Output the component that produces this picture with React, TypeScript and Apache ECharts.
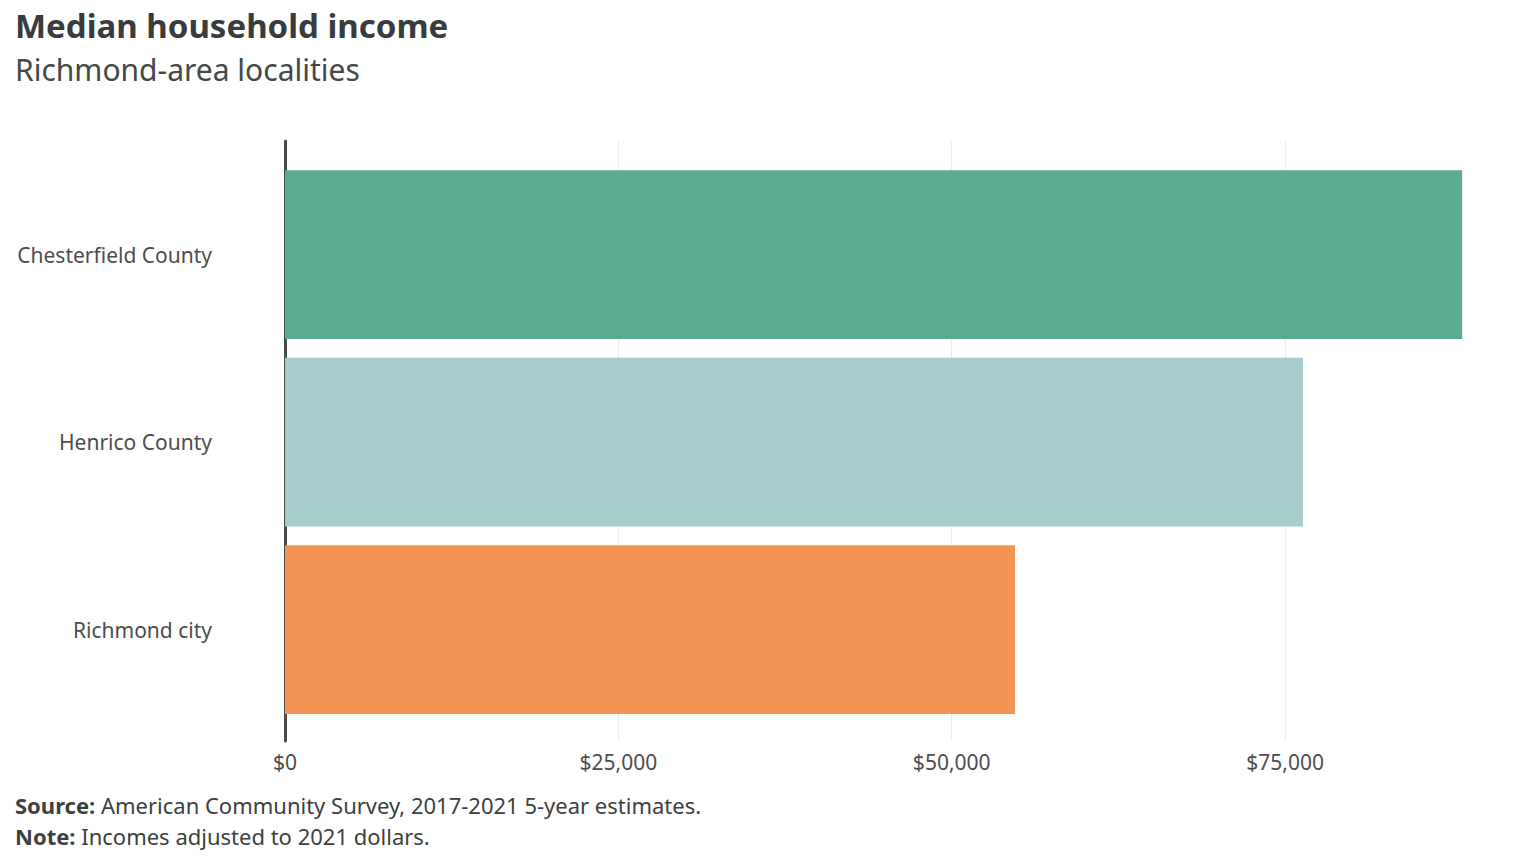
import React, { useEffect, useRef } from "react";
import * as echarts from "echarts";

const categories = ["Chesterfield County", "Henrico County", "Richmond city"];
const incomes = [88280, 76350, 54750];
const barColors = ["#5BAB8E", "#A6CCCC", "#F39354"];
const tickInterval = 25000;

const FONT = "'Noto Sans', 'Open Sans', sans-serif";

export default function App() {
  const ref = useRef<HTMLDivElement>(null);
  useEffect(() => {
    if (!ref.current) return;
    const chart = echarts.init(ref.current, undefined, { renderer: "svg" });
    const xMax = Math.max(...incomes) * 1.05;
    const left = 285;
    const right = 15;
    const fmt = (v: number) => "$" + v.toLocaleString("en-US");
    const capStyle = (top: number, text: string) => ({
      text,
      left: 15,
      top,
      padding: 0,
      textStyle: {
        fontFamily: FONT,
        fontSize: 22,
        fontWeight: "normal",
        color: "#3d4040",
        lineHeight: 24,
        rich: {
          b: { fontFamily: FONT, fontSize: 22, fontWeight: "bold", color: "#3d4040", lineHeight: 24 },
        },
      },
    });
    chart.setOption({
      animation: false,
      textStyle: { fontFamily: FONT },
      title: [
        {
          text: "Median household income",
          left: 15,
          top: 9,
          padding: 0,
          textStyle: { fontFamily: FONT, fontSize: 33, fontWeight: "bold", color: "#383c3c" },
        },
        {
          text: "Richmond-area localities",
          left: 15,
          top: 54,
          padding: 0,
          textStyle: { fontFamily: FONT, fontSize: 30, fontWeight: "normal", color: "#444848" },
        },
        capStyle(793, "{b|Source:} American Community Survey, 2017-2021 5-year estimates."),
        capStyle(823.5, "{b|Note:} Incomes adjusted to 2021 dollars."),
      ],
      grid: [
        { left, right, top: 141, height: 600, containLabel: false },
        { left, right, top: 160.75, height: 562.5, containLabel: false },
      ],
      xAxis: [
        {
          gridIndex: 0,
          type: "value",
          min: 0,
          max: xMax,
          interval: tickInterval,
          axisLine: { show: false },
          axisTick: { show: false },
          splitLine: { show: true, showMaxLine: false, lineStyle: { color: "#ececec", width: 1 } },
          axisLabel: {
            formatter: (v: number) => (v % tickInterval === 0 ? fmt(v) : ""),
            fontFamily: FONT,
            fontSize: 21,
            color: "#4d4d4d",
            margin: 10,
            showMaxLabel: false,
          },
        },
        {
          gridIndex: 1,
          type: "value",
          min: 0,
          max: xMax,
          show: false,
        },
      ],
      yAxis: [
        {
          gridIndex: 0,
          type: "value",
          min: 0,
          max: 1,
          axisLine: { show: true, lineStyle: { color: "#4a4a4a", width: 3 } },
          axisTick: { show: false },
          axisLabel: { show: false },
          splitLine: { show: false },
        },
        {
          gridIndex: 1,
          type: "category",
          data: categories,
          inverse: true,
          axisLine: { show: false },
          axisTick: { show: false },
          axisLabel: {
            fontFamily: FONT,
            fontSize: 21,
            color: "#4d4d4d",
            margin: 73,
          },
        },
      ],
      series: [
        {
          type: "bar",
          xAxisIndex: 1,
          yAxisIndex: 1,
          barCategoryGap: "10%",
          data: incomes.map((v, i) => ({ value: v, itemStyle: { color: barColors[i] } })),
          z: 1,
        },
      ],
    });
    return () => chart.dispose();
  }, []);
  return (
    <div
      ref={ref}
      style={{ position: "fixed", left: 0, top: 0, width: 1536, height: 865, background: "#fff" }}
    />
  );
}
